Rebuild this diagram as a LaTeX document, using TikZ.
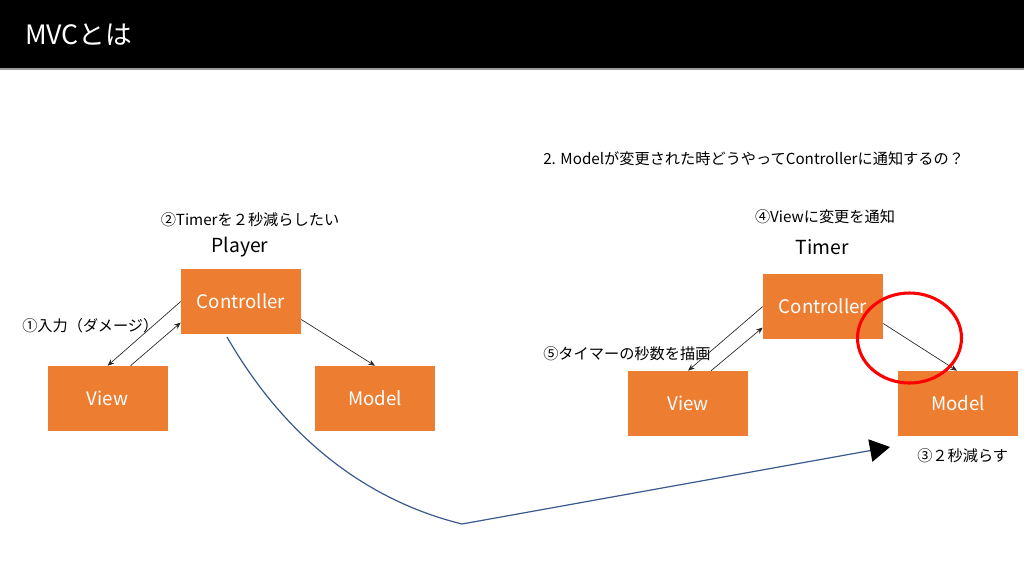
\documentclass[tikz,border=0pt]{standalone}
\usepackage{fontspec}
\setmainfont{Noto Sans CJK JP}
\usetikzlibrary{arrows.meta,calc}
\definecolor{boxorange}{HTML}{ED7D31}
\definecolor{curveblue}{HTML}{3A5A8E}
\definecolor{hdrgray}{HTML}{9A9A9A}
\tikzset{
  mvcbox/.style={fill=boxorange, draw=none, minimum width=90pt, minimum height=48.75pt,
    inner sep=0pt, text=white, font=\fontsize{14}{16}\selectfont},
  lbl/.style={inner sep=0pt, text=black, font=\fontsize{11.4}{13}\selectfont},
  ttl/.style={inner sep=0pt, text=black, font=\fontsize{14.5}{16}\selectfont},
  thinarrow/.style={draw=black!85, line width=0.5pt, -{Stealth[length=5pt,width=4pt]}},
}
\begin{document}
\begin{tikzpicture}[x=0.75pt,y=-0.75pt]
\useasboundingbox (0,0) rectangle (1024,576);
\fill[white] (0,0) rectangle (1024,576);
% header
\fill[black] (0,0) rectangle (1024,68);
\fill[hdrgray] (0,68) rectangle (1024,70);
\node[anchor=west, inner sep=0pt, text=white, font=\fontsize{20}{22}\selectfont] (title) at (25,35) {MVCとは};

% left diagram
\node[mvcbox] (cL) at (241,301.5) {Controller};
\node[mvcbox] (vL) at (107.5,398.5) {View};
\node[mvcbox] (mL) at (375,398.5) {Model};
\node[ttl] (player) at (240,247) {Player};
\node[lbl] (l2) at (250,220) {②Timerを２秒減らしたい};
\node[lbl, anchor=west] (l1) at (22,326) {①入力（ダメージ）};
\draw[thinarrow] ($(cL.west)+(0,0)$) -- ($(vL.north)+(0,0)$);
\draw[thinarrow] ($(vL.north)+(23,0)$) -- ($(cL.west)+(0,21)$);
\draw[thinarrow] ($(cL.east)+(0,18)$) -- ($(mL.north)+(0,0)$);

% right diagram
\node[mvcbox] (cR) at (823,306.5) {Controller};
\node[mvcbox] (vR) at (688,403.5) {View};
\node[mvcbox] (mR) at (958,403.5) {Model};
\node[ttl] (timer) at (822,247) {Timer};
\node[lbl] (l4) at (825,217) {④Viewに変更を通知};
\node[lbl, anchor=west] (q) at (543,159) {2. Modelが変更された時どうやってControllerに通知するの？};
\node[lbl, anchor=west] (l5) at (543,354) {⑤タイマーの秒数を描画};
\node[lbl, anchor=west] (l3) at (917,456) {③２秒減らす};
\draw[thinarrow] ($(cR.west)+(0,0)$) -- ($(vR.north)+(0,0)$);
\draw[thinarrow] ($(vR.north)+(23,0)$) -- ($(cR.west)+(0,21)$);
\draw[thinarrow] ($(cR.east)+(0,17)$) -- ($(mR.north)+(-1,0)$);

% red ellipse
\coordinate (ec) at (909.5,338);
\draw[red, line width=2.3pt] (ec) ellipse [x radius=52, y radius=45];

% blue curve
\coordinate (cstart) at (227,337);
\coordinate (cbottom) at (462,524);
\coordinate (ctip) at (890,447);
\draw[curveblue, line width=0.9pt, -{Triangle[length=15pt,width=17pt,color=black]}]
  (cstart) .. controls (295,455) and (385,505) .. (cbottom) -- (ctip);
\end{tikzpicture}
\end{document}
